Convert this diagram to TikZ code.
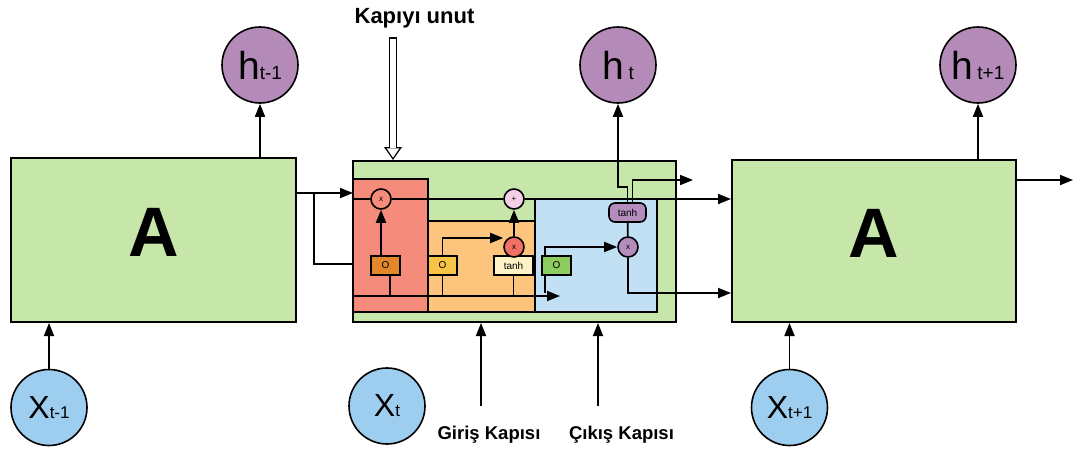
\documentclass[tikz,border=0pt]{standalone}
\usepackage{fontspec}
\setmainfont{Liberation Sans}
\usetikzlibrary{arrows.meta,positioning}
\definecolor{cellGreen}{HTML}{C6E6AA}
\definecolor{forgetRed}{HTML}{F58B7B}
\definecolor{inputOrange}{HTML}{FDC47E}
\definecolor{outputBlue}{HTML}{C1E0F4}
\definecolor{sigForget}{HTML}{E3882A}
\definecolor{sigInput}{HTML}{F7C446}
\definecolor{sigOutput}{HTML}{8DCD5F}
\definecolor{tanhCream}{HTML}{FFF2C6}
\definecolor{mulRed}{HTML}{F26F64}
\definecolor{plusPink}{HTML}{F6CDE6}
\definecolor{opPurple}{HTML}{B58CBE}
\definecolor{hPurple}{HTML}{B38AB8}
\definecolor{xBlue}{HTML}{9DCEF0}

\begin{document}
\begin{tikzpicture}[x=1pt, y=-1pt, line width=1.8pt,
  cellbox/.style={draw, line width=2pt, fill=cellGreen, minimum width=285pt, minimum height=164pt, inner sep=0pt, text depth=15pt, font=\bfseries\fontsize{70}{70}\selectfont},
  region/.style={draw, line width=1.8pt, inner sep=0pt},
  gatebox/.style={draw, line width=1.6pt, minimum width=29pt, minimum height=19pt, inner sep=0pt, font=\fontsize{10}{10}\selectfont},
  opnode/.style={circle, draw, line width=1.6pt, minimum size=20pt, inner sep=0pt, font=\fontsize{8}{8}\selectfont},
  hnode/.style={circle, draw, line width=1.6pt, fill=hPurple, minimum size=76pt, inner sep=0pt},
  xnode/.style={circle, draw, line width=1.6pt, fill=xBlue, minimum size=76pt, inner sep=0pt},
  gatelabel/.style={font=\bfseries\fontsize{18.5}{18.5}\selectfont},
  arr/.style={-{Triangle[length=13pt,width=10pt]}, line width=1.8pt}
]
  \fill[white] (0,0) rectangle (1082,453);
  \useasboundingbox (0,0) rectangle (1082,453);

  % three time steps
  \node[cellbox] (Aprev) at (153.5,240) {A};
  \node[cellbox, minimum width=323pt, minimum height=161pt] (cell) at (514.5,241.5) {};
  \node[cellbox, minimum width=284pt, minimum height=162pt] (Anext) at (874,241) {A};

  % gate regions inside the cell
  \node[region, fill=forgetRed, minimum width=75pt, minimum height=133pt] (fregion) at (390.5,245.5) {};
  \node[region, fill=inputOrange, minimum width=107pt, minimum height=91pt] (iregion) at (481.5,266.5) {};
  \node[region, fill=outputBlue, minimum width=122pt, minimum height=113pt] (oregion) at (596,255.5) {};

  \node[gatebox, fill=sigForget] (sigF) at (385.5,265.5) {O};
  \node[gatebox, fill=sigInput] (sigI) at (442.5,265.5) {O};
  \node[gatebox, fill=tanhCream, minimum width=39pt] (tanhI) at (513.5,265.5) {tanh};
  \node[gatebox, fill=sigOutput] (sigO) at (556.5,265.5) {O};
  \node[gatebox, fill=opPurple, rounded corners=6pt, minimum width=37pt] (tanhO) at (627.5,212.5) {tanh};

  \node[opnode, fill=forgetRed] (mulF) at (381,199) {x};
  \node[opnode, fill=plusPink] (add) at (514,199) {+};
  \node[opnode, fill=mulRed] (mulI) at (514,247) {x};
  \node[opnode, fill=opPurple] (mulO) at (628,247) {x};

  % hidden states and inputs
  \node[hnode] (hprev) at (260,65) {\fontsize{39}{39}\selectfont h\fontsize{19}{19}\selectfont t-1};
  \node[hnode] (ht) at (618,65) {\fontsize{39}{39}\selectfont h\hspace{5pt}\fontsize{19}{19}\selectfont t};
  \node[hnode] (hnext) at (978,65) {\fontsize{39}{39}\selectfont h\hspace{4pt}\fontsize{19}{19}\selectfont t+1};
  \node[xnode] (xprev) at (49,407.5) {\fontsize{32}{32}\selectfont X\fontsize{17}{17}\selectfont t-1};
  \node[xnode] (xcur) at (387,406) {\fontsize{32}{32}\selectfont X\fontsize{17}{17}\selectfont t};
  \node[xnode] (xnext) at (789.5,407.5) {\fontsize{32}{32}\selectfont X\fontsize{17}{17}\selectfont t+1};

  % labels
  \node[gatelabel, font=\bfseries\fontsize{22}{22}\selectfont] (forget) at (414.5,18) {Kapıyı unut};
  \node[gatelabel] (giris) at (489,435) {Giriş Kapısı};
  \node[gatelabel] (cikis) at (621.5,435) {Çıkış Kapısı};

  \coordinate (prevIn) at (353,193);
  \coordinate (split) at (314,193);
  \coordinate (busL) at (353,296);
  \coordinate (busR) at (560,296);
  \coordinate (cellOut) at (693,180);
  \coordinate (nextOut) at (1073,180);

  % previous step into the cell
  \draw[arr] (Aprev.east |- prevIn) -- (prevIn);
  \draw (split) |- ([yshift=-22.5pt]cell.west);
  \draw[arr] (Aprev.north -| hprev) -- (hprev);
  \draw[arr] (xprev) -- (xprev |- Aprev.south);

  % cell state
  \draw (mulF -| cell.west) -- (mulF);
  \draw (mulF) -- (add);
  \draw[arr] (add) -- (add -| Anext.west);

  % bus feeding the gates
  \draw[arr] (busL) -- (busR);
  \draw ([xshift=4.5pt]sigF.south) -- ([xshift=4.5pt]sigF.south |- busL);
  \draw (sigI.south) -- (sigI.south |- busL);
  \draw (tanhI.south) -- (tanhI.south |- busL);
  \draw ([xshift=-11.5pt]sigO.south) -- ++(0,17);

  \draw[arr] ([xshift=-4.5pt]sigF.north) -- (mulF);
  \draw[arr] (sigI.north) |- ([yshift=9pt]mulI.west);
  \draw[arr] (mulI) -- (add);
  \draw[arr] ([xshift=-11.5pt]sigO.north) |- (mulO);

  % output
  \draw (mulO) -- (tanhO);
  \draw[arr] (mulO) |- ([yshift=-52pt]Anext.west);
  \draw[arr] (tanhO.north) -- ++(0,-15) -| (ht);
  \draw[arr] ([xshift=5pt]tanhO.north) |- (cellOut);

  % next step
  \draw[arr] (Anext.east |- nextOut) -- (nextOut);
  \draw[arr] (Anext.north -| hnext) -- (hnext);
  \draw[arr] (xnext) -- (xnext |- Anext.south);

  % gate pointers
  \draw[line width=8.5pt, -{Triangle[length=13pt,width=18pt,line width=0pt]}] ([xshift=-21.5pt,yshift=-5pt]forget.south) -- ([xshift=-21.5pt]forget.south |- cell.north);
  \draw[white, line width=5.5pt, -{Triangle[length=9.2pt,width=12.6pt,line width=0pt]}, shorten >=2.4pt] ([xshift=-21.5pt,yshift=-6.5pt]forget.south) -- ([xshift=-21.5pt]forget.south |- cell.north);
  \draw[arr] ([xshift=-8pt,yshift=16pt]giris.north) -- ([xshift=-8pt]giris.north |- cell.south);
  \draw[arr] ([xshift=-23.5pt,yshift=16pt]cikis.north) -- ([xshift=-23.5pt]cikis.north |- cell.south);
\end{tikzpicture}
\end{document}
